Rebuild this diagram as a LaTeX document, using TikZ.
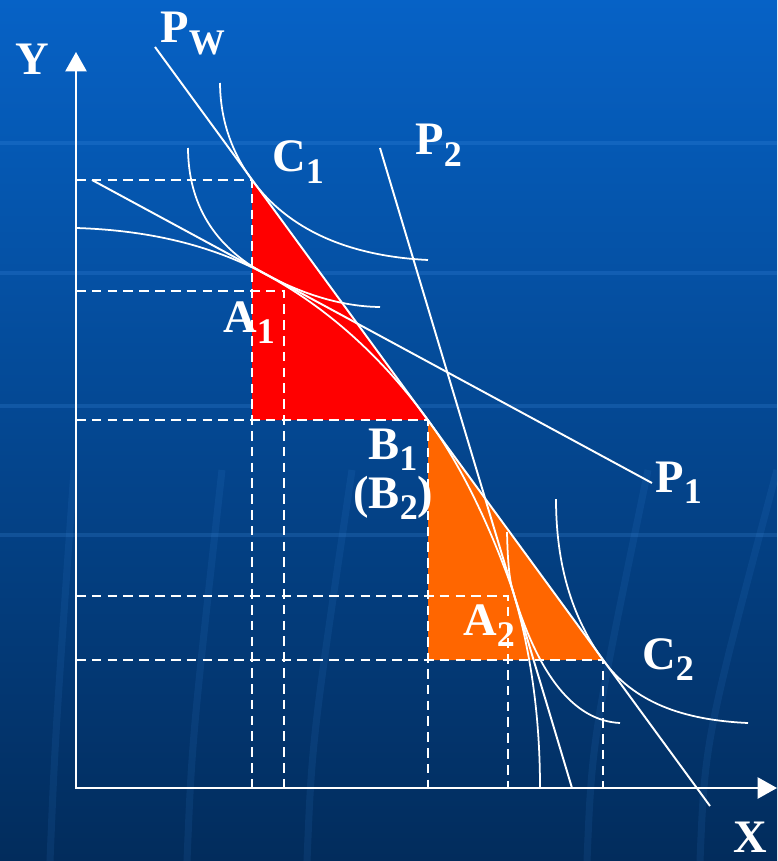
\documentclass[tikz,border=0pt]{standalone}
\usepackage{fontspec}
\setmainfont{Liberation Serif}
\usetikzlibrary{arrows.meta,calc}

\definecolor{bgtop}{RGB}{6,98,198}
\definecolor{bgmid}{RGB}{10,74,150}
\definecolor{bgbot}{RGB}{2,44,92}
\definecolor{streak}{RGB}{70,150,235}
\definecolor{tradered}{RGB}{255,0,0}
\definecolor{tradeorange}{RGB}{255,102,0}

% lowered, smaller index as on the slide
\newcommand{\sub}[1]{\raisebox{-6.8pt}{\fontsize{20.5}{22}\selectfont #1}}

\tikzset{
  curve/.style={white, line width=1pt},
  pline/.style={white, line width=1.1pt},
  guide/.style={white, line width=1.1pt, dash pattern=on 5.5pt off 3.5pt},
  axes/.style={white, line width=1.2pt,
    {Triangle[length=11pt,width=12pt]}-{Triangle[length=11pt,width=12pt]}},
  lab/.style={text=white, font=\fontsize{26.5}{28}\selectfont\bfseries,
    inner sep=0pt, anchor=base west},
}

\begin{document}
\begin{tikzpicture}[x=0.02cm, y=-0.02cm]
  \useasboundingbox (0,0) rectangle (777,861);
  % background of the slide
  \shade[top color=bgtop, middle color=bgmid, bottom color=bgbot] (0,0) rectangle (777,861);
  \foreach \yy in {143,273,406,535}
    \draw[streak, opacity=0.2, line width=2.5pt] (0,\yy) -- (777,\yy);
  \foreach \xa/\xb in {50/74,187/222,307/352,587/648,700/777}
    \draw[streak, opacity=0.1, line width=4pt] (\xa,861) .. controls (\xa+5,740) .. (\xb,470);

  % points
  \coordinate (O) at (76,788);
  \coordinate (ytip) at (76,52);
  \coordinate (xtip) at (777,788);
  \coordinate (C1) at (252,180);
  \coordinate (A1) at (284,291);
  \coordinate (B1) at (428,420);
  \coordinate (A2) at (508,596);
  \coordinate (C2) at (603,660);
  \coordinate (t1) at (265,274);
  \coordinate (t2) at (512.6,590);
  \coordinate (pwS) at (155,47);
  \coordinate (pwE) at (710,806);
  \coordinate (p1S) at (92,180);
  \coordinate (p1E) at (652,483);
  \coordinate (p2S) at (380,148);
  \coordinate (p2E) at (572,788);

  % trade triangles
  \fill[tradered] (C1) -- (C1 |- B1) -- (B1) -- cycle;
  \fill[tradeorange] (B1) -- (B1 |- C2) -- (C2) -- cycle;

  % dashed guides to the axes
  \draw[guide] (O |- C1) -- (C1) -- (C1 |- O);
  \draw[guide] (O |- A1) -- (A1) -- (A1 |- O);
  \draw[guide] (O |- B1) -- (B1) -- (B1 |- O);
  \draw[guide] (O |- A2) -- (A2) -- (A2 |- O);
  \draw[guide] (O |- C2) -- (C2) -- (C2 |- O);

  % production possibility curve
  \draw[curve] (76,228) .. controls (149,230.2) and (212,245.5) .. (t1)
    .. controls (327,307.5) and (381.3,356.2) .. (B1)
    .. controls (466,471.9) and (494.2,538) .. (t2)
    .. controls (530.9,651) and (540,717) .. (540,788);

  % indifference curves
  \draw[curve] (220,83) .. controls (220.3,119.4) and (231.3,151.7) .. (C1)
    .. controls (288,229) and (347,256) .. (428,260);
  \draw[curve] (188,148) .. controls (188.3,204) and (214,246.4) .. (t1)
    .. controls (304,295) and (343,306.6) .. (380,307);
  \draw[curve] (507,532) .. controls (507.5,553) and (508.5,576.3) .. (t2)
    .. controls (538.5,676.4) and (574.3,720.7) .. (620,723);
  \draw[curve] (556,499) .. controls (556,564) and (571.7,617.1) .. (C2)
    .. controls (633.7,702) and (682,720) .. (748,723);

  % price lines
  \draw[pline] (pwS) -- (pwE);
  \draw[pline] (p1S) -- (p1E);
  \draw[pline] (p2S) -- (p2E);

  % axes
  \draw[axes] (ytip) -- (O) -- (xtip);

  % labels
  \node[lab] (lY) at (15,75) {Y};
  \node[lab] (lX) at (733,852) {X};
  \node[lab] (lPW) at (160,43) {P\sub{W}};
  \node[lab] (lC1) at (272,172) {C\sub{1}};
  \node[lab] (lP2) at (415,155) {P\sub{2}};
  \node[lab] (lA1) at (223,332) {A\sub{1}};
  \node[lab] (lB1) at (368,459) {B\sub{1}};
  \node[lab] (lB2) at (353,508) {(B\sub{2})};
  \node[lab] (lP1) at (655,492) {P\sub{1}};
  \node[lab] (lA2) at (463,635) {A\sub{2}};
  \node[lab] (lC2) at (642,669) {C\sub{2}};
\end{tikzpicture}
\end{document}
